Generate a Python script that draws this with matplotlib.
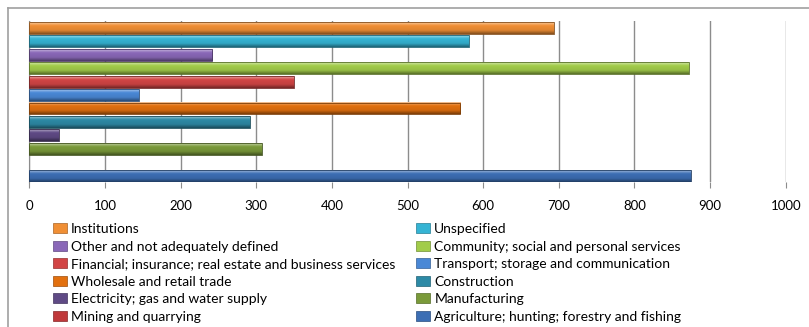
import numpy as np
import matplotlib
matplotlib.use("Agg")
import matplotlib.pyplot as plt
from matplotlib.colors import to_rgb
from matplotlib.patches import Patch, Rectangle
from matplotlib.lines import Line2D

plt.rcParams['font.family'] = ['Lato', 'DejaVu Sans']

# industries, bottom to top
industries = [
    "Agriculture; hunting; forestry and fishing",
    "Mining and quarrying",
    "Manufacturing",
    "Electricity; gas and water supply",
    "Construction",
    "Wholesale and retail trade",
    "Transport; storage and communication",
    "Financial; insurance; real estate and business services",
    "Community; social and personal services",
    "Other and not adequately defined",
    "Unspecified",
    "Institutions",
]
values = [875, 0, 307, 39, 292, 570, 145, 350, 872, 242, 581, 694]
colors = ["#3c6eb4", "#c0393b", "#7a9a3a", "#5f4a85", "#2d8aa6", "#e2700f",
          "#4a88d6", "#d24545", "#a2cc4a", "#8a68b8", "#35b4d4", "#f08f35"]
xticks = [0, 100, 200, 300, 400, 500, 600, 700, 800, 900, 1000]

W, H = 809, 327
fig = plt.figure(figsize=(W / 100, H / 100), dpi=100)

# outer chart frame (top and left edges)
fig.add_artist(Line2D([8 / W, 8 / W], [0, 1 - 8 / H], color="#a0a0a0", lw=1.2))
fig.add_artist(Line2D([8 / W, 1], [1 - 8 / H, 1 - 8 / H], color="#a0a0a0", lw=1.2))

x0, x1 = 29.3, 785.7
y_top, y_bot = 21.2, 182.4
ax = fig.add_axes([x0 / W, 1 - y_bot / H, (x1 - x0) / W, (y_bot - y_top) / H])
ax.set_xlim(0, 1000)


def shade(c, f):
    c = np.array(to_rgb(c))
    if f >= 0:
        return c + (1 - c) * f
    return c * (1 + f)


# vertical gradient profile: top highlight, body, dark lower edge
stops = np.array([0.0, 0.12, 0.3, 0.7, 0.88, 1.0])
amount = np.array([0.6, 0.3, 0.0, -0.08, -0.3, -0.45])
t = np.linspace(0, 1, 40)
prof = np.interp(t, stops, amount)

bh = 0.89
for i, (v, c) in enumerate(zip(values, colors)):
    if v <= 0:
        continue
    img = np.array([shade(c, f) for f in prof])[:, None, :]
    ax.imshow(img, extent=[0, v, i - bh / 2, i + bh / 2], aspect="auto",
              origin="upper", interpolation="bilinear", zorder=3)
    ax.add_patch(Rectangle((0, i - bh / 2), v, bh, fill=False,
                           ec=shade(c, -0.45), lw=0.6, zorder=4))

ax.set_ylim(-0.5, len(values) - 0.5)
ax.set_xticks(xticks)
ax.set_xticklabels([str(x) for x in xticks], fontsize=9.5)
ax.set_yticks([])
ax.grid(axis="x", color="#8c8c8c", lw=1, zorder=1)
for s in ["top", "right", "bottom"]:
    ax.spines[s].set_visible(False)
ax.spines["left"].set_color("#8c8c8c")
ax.tick_params(axis="x", length=4, color="#8c8c8c", pad=9)

# legend: two columns, read row by row from the top of the chart
order = list(range(len(industries)))[::-1]
col1 = order[0::2]
col2 = order[1::2]
handles = [Patch(facecolor=colors[k], edgecolor=shade(colors[k], -0.3), lw=0.5)
           for k in col1 + col2]
labels = [industries[k] for k in col1 + col2]
fig.legend(handles, labels, ncol=2, loc="upper left",
           bbox_to_anchor=(53 / W, 1 - 223 / H), frameon=False,
           fontsize=10, handlelength=1.0, handleheight=0.75,
           handletextpad=0.3, labelspacing=0.4, columnspacing=1.5,
           borderpad=0, borderaxespad=0)

fig.savefig("out.png", dpi=100)
